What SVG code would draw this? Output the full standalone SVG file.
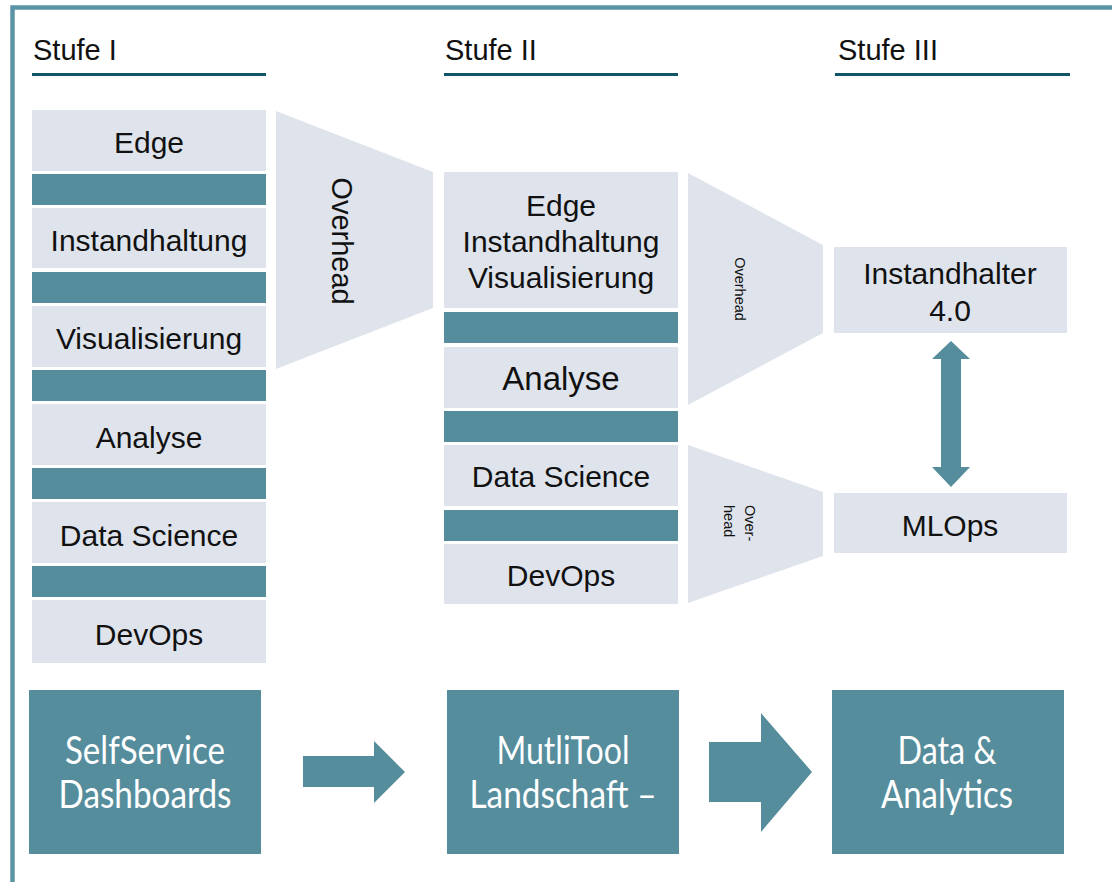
<svg xmlns="http://www.w3.org/2000/svg" width="1112" height="882" viewBox="0 0 1112 882">
  <style>
    .lbl { font-family: "Liberation Sans", Arial, sans-serif; font-size: 30px; fill: #111; text-anchor: middle; }
    .lbl-lg { font-size: 33px; }
    .head { font-family: "Liberation Sans", Arial, sans-serif; font-size: 29px; fill: #111; }
    .light { fill: #dfe4ec; }
    .teal { fill: #558d9d; }
    .rule { fill: #0f5567; }
    .big { font-family: Lato, "Open Sans", sans-serif; font-weight: 400; font-size: 38px; fill: #ffffff; text-anchor: middle; }
    .oh { font-family: "Liberation Sans", Arial, sans-serif; fill: #111; }
  </style>

  <rect width="1112" height="882" fill="#ffffff"/>

  <!-- outer frame (only top and left edges fall inside the canvas) -->
  <path d="M12.5 882 V7.5 H1112" fill="none" stroke="#5b94a4" stroke-width="4.5"/>

  <!-- stage headings -->
  <g id="heading-1">
    <text class="head" x="33" y="60">Stufe I</text>
    <rect class="rule" x="32" y="73" width="234" height="3"/>
  </g>
  <g id="heading-2">
    <text class="head" x="445" y="60">Stufe II</text>
    <rect class="rule" x="444" y="73" width="234" height="3"/>
  </g>
  <g id="heading-3">
    <text class="head" x="838" y="60">Stufe III</text>
    <rect class="rule" x="835" y="73" width="235" height="3"/>
  </g>

  <!-- stage I stack -->
  <g id="s1-edge"><rect class="light" x="32" y="110" width="234" height="61"/><text class="lbl" x="149" y="153">Edge</text></g>
  <rect class="teal" x="32" y="174" width="234" height="31"/>
  <g id="s1-instandhaltung"><rect class="light" x="32" y="208" width="234" height="60"/><text class="lbl" x="149" y="251">Instandhaltung</text></g>
  <rect class="teal" x="32" y="272" width="234" height="31"/>
  <g id="s1-visualisierung"><rect class="light" x="32" y="306" width="234" height="61"/><text class="lbl" x="149" y="349">Visualisierung</text></g>
  <rect class="teal" x="32" y="370" width="234" height="31"/>
  <g id="s1-analyse"><rect class="light" x="32" y="404" width="234" height="61"/><text class="lbl" x="149" y="448">Analyse</text></g>
  <rect class="teal" x="32" y="468" width="234" height="31"/>
  <g id="s1-datascience"><rect class="light" x="32" y="502" width="234" height="61"/><text class="lbl" x="149" y="546">Data Science</text></g>
  <rect class="teal" x="32" y="566" width="234" height="31"/>
  <g id="s1-devops"><rect class="light" x="32" y="600" width="234" height="63"/><text class="lbl" x="149" y="645">DevOps</text></g>

  <!-- overhead funnel I -> II -->
  <g id="overhead-1">
    <polygon class="light" points="276,111 433,172 433,308 276,369"/>
    <text class="oh" font-size="29" text-anchor="middle" transform="translate(332,241) rotate(90)">Overhead</text>
  </g>

  <!-- stage II stack -->
  <g id="s2-combined">
    <rect class="light" x="444" y="172" width="234" height="136"/>
    <text class="lbl" x="561" y="216">Edge</text>
    <text class="lbl" x="561" y="252">Instandhaltung</text>
    <text class="lbl" x="561" y="288">Visualisierung</text>
  </g>
  <rect class="teal" x="444" y="312" width="234" height="31"/>
  <g id="s2-analyse"><rect class="light" x="444" y="347" width="234" height="61"/><text class="lbl lbl-lg" x="561" y="390">Analyse</text></g>
  <rect class="teal" x="444" y="411" width="234" height="31"/>
  <g id="s2-datascience"><rect class="light" x="444" y="445" width="234" height="61"/><text class="lbl" x="561" y="487">Data Science</text></g>
  <rect class="teal" x="444" y="510" width="234" height="31"/>
  <g id="s2-devops"><rect class="light" x="444" y="544" width="234" height="60"/><text class="lbl" x="561" y="586">DevOps</text></g>

  <!-- overhead funnels II -> III -->
  <g id="overhead-2">
    <polygon class="light" points="688,173 823,245 823,333 688,405"/>
    <text class="oh" font-size="14.5" text-anchor="middle" transform="translate(735,289) rotate(90)">Overhead</text>
  </g>
  <g id="overhead-3">
    <polygon class="light" points="688,445 823,492 823,556 688,603"/>
    <text class="oh" font-size="14.5" transform="translate(745,505) rotate(90)"><tspan x="0" y="0">Over-</tspan><tspan x="0" y="21">head</tspan></text>
  </g>

  <!-- stage III -->
  <g id="s3-instandhalter">
    <rect class="light" x="834" y="247" width="233" height="86"/>
    <text class="lbl" x="950" y="284">Instandhalter</text>
    <text class="lbl" x="950" y="321">4.0</text>
  </g>
  <g id="s3-mlops">
    <rect class="light" x="834" y="493" width="233" height="60"/>
    <text class="lbl" x="950" y="536">MLOps</text>
  </g>

  <!-- maturity stages -->
  <g id="stage-selfservice">
    <rect class="teal" x="29" y="690" width="232" height="164"/>
    <text class="big" x="145" y="764" textLength="160" lengthAdjust="spacingAndGlyphs">SelfService</text>
    <text class="big" x="145" y="808" textLength="173" lengthAdjust="spacingAndGlyphs">Dashboards</text>
  </g>
  <g id="stage-multitool">
    <rect class="teal" x="447" y="690" width="232" height="164"/>
    <text class="big" x="563" y="764" textLength="133" lengthAdjust="spacingAndGlyphs">MutliTool</text>
    <text class="big" x="563" y="808" textLength="187" lengthAdjust="spacingAndGlyphs">Landschaft –</text>
  </g>
  <g id="stage-data-analytics">
    <rect class="teal" x="832" y="690" width="232" height="164"/>
    <text class="big" x="947" y="764" textLength="99" lengthAdjust="spacingAndGlyphs">Data &amp;</text>
    <text class="big" x="947" y="808" textLength="132" lengthAdjust="spacingAndGlyphs">Analytics</text>
  </g>

  <!-- connectors -->
  <g id="connectors">
    <polygon class="teal" points="941,359 932,359 951,341 970,359 961,359 961,467 970,467 951,487 932,467 941,467"/>
    <polygon class="teal" points="303,756 374,756 374,741 405,772 374,803 374,787 303,787"/>
    <polygon class="teal" points="709,742 761,742 761,713 812,772 761,832 761,802 709,802"/>
  </g>
</svg>
